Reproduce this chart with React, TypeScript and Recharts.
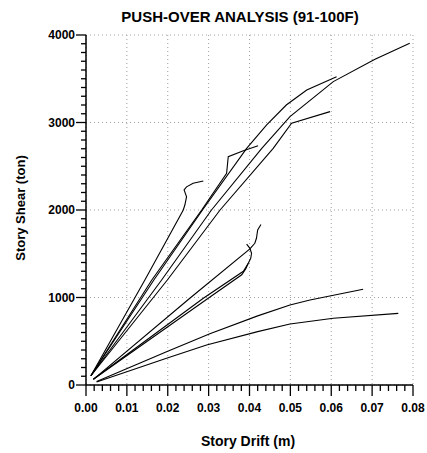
import React from "react";
import { LineChart, Line, XAxis, YAxis, CartesianGrid } from "recharts";

const titleText = "PUSH-OVER ANALYSIS (91-100F)";
const xLabelText = "Story Drift (m)";
const yLabelText = "Story Shear (ton)";

const xMajorTicks = [0, 0.01, 0.02, 0.03, 0.04, 0.05, 0.06, 0.07, 0.08];
const yMajorTicks = [0, 1000, 2000, 3000, 4000];
const xMinorStep = 0.002;
const yMinorStep = 100;

type P = { x: number; y: number };
const pts = (a: number[][]): P[] => a.map(([x, y]) => ({ x, y }));

// Upper group
const storyA1 = pts([[0.0012, 106], [0.0144, 1200], [0.0238, 2000], [0.0242, 2060], [0.0246, 2152], [0.024, 2229], [0.0246, 2265], [0.0262, 2305], [0.0287, 2332]]);
const storyA2 = pts([[0.0012, 106], [0.0161, 1200], [0.0283, 2000], [0.0344, 2420], [0.0348, 2610], [0.0385, 2678], [0.0421, 2735]]);
const storyA3 = pts([[0.0012, 106], [0.0166, 1200], [0.0285, 2000], [0.0393, 2705], [0.0442, 2972], [0.049, 3200], [0.054, 3372], [0.0613, 3524]]);
const storyA4 = pts([[0.0012, 106], [0.0185, 1200], [0.0307, 2000], [0.043, 2705], [0.0499, 3067], [0.0605, 3467], [0.0707, 3722], [0.0792, 3906]]);
const storyA5 = pts([[0.0012, 106], [0.0199, 1200], [0.0328, 2000], [0.0458, 2705], [0.0503, 2991], [0.0597, 3124]]);
// Middle group
const storyB1 = pts([[0.0018, 65], [0.0254, 991], [0.0401, 1555], [0.0413, 1620], [0.0417, 1677], [0.042, 1772], [0.0428, 1835]]);
const storyB2 = pts([[0.0018, 65], [0.0287, 991], [0.0385, 1300], [0.0397, 1391], [0.0403, 1448], [0.0405, 1506], [0.0401, 1562], [0.0393, 1610]]);
const storyB3 = pts([[0.0018, 65], [0.0299, 991], [0.0381, 1260], [0.0391, 1330], [0.0397, 1391]]);
// Lower group
const storyC1 = pts([[0.0026, 40], [0.0197, 381], [0.0303, 585], [0.042, 790], [0.0499, 914], [0.0548, 971], [0.0678, 1094]]);
const storyC2 = pts([[0.0026, 35], [0.0197, 305], [0.0295, 457], [0.042, 610], [0.0499, 697], [0.0605, 762], [0.0764, 819]]);

const series = [storyA1, storyA2, storyA3, storyA4, storyA5, storyB1, storyB2, storyB3, storyC1, storyC2];

const xTicks: number[] = [];
for (let i = 0; i <= 40; i++) xTicks.push(Math.round(i * xMinorStep * 10000) / 10000);
const yTicks: number[] = [];
for (let i = 0; i <= 40; i++) yTicks.push(i * yMinorStep);

const FONT = "'Liberation Sans', Arial, sans-serif";

const isXMajor = (v: number) => xMajorTicks.some((m) => Math.abs(m - v) < 1e-7);
const isYMajor = (v: number) => yMajorTicks.includes(v);

const XTick = (props: any) => {
  const { x, y, payload } = props;
  const v = payload.value as number;
  const major = isXMajor(v);
  return (
    <g>
      <line x1={x} x2={x} y1={y} y2={y + (major ? 11 : 6)} stroke="#000" strokeWidth={1.3} />
      {major && (
        <text x={x} y={y + 27} textAnchor="middle" fontFamily={FONT} fontWeight="bold" fontSize={12} fill="#000">
          {v.toFixed(2)}
        </text>
      )}
    </g>
  );
};

const YTick = (props: any) => {
  const { x, y, payload } = props;
  const v = payload.value as number;
  const major = isYMajor(v);
  return (
    <g>
      <line x1={x} x2={x - (major ? 10 : 5)} y1={y} y2={y} stroke="#000" strokeWidth={1.3} />
      {major && (
        <text x={x - 11} y={y + 4} textAnchor="end" fontFamily={FONT} fontWeight="bold" fontSize={12} fill="#000">
          {v}
        </text>
      )}
    </g>
  );
};

export default function App() {
  return (
    <div style={{ position: "absolute", left: 0, top: 0, width: 427, height: 453, background: "#fff" }}>
      <LineChart width={427} height={453} margin={{ top: 35, right: 14, left: 26, bottom: 28 }}>
        <CartesianGrid
          stroke="#a0a0a0"
          strokeDasharray="1 3"
          horizontalValues={yMajorTicks}
          verticalValues={xMajorTicks}
        />
        <XAxis
          type="number"
          dataKey="x"
          domain={[0, 0.08]}
          ticks={xTicks}
          interval={0}
          allowDataOverflow
          height={40}
          tickSize={0}
          tickMargin={0}
          tickLine={false}
          tick={<XTick />}
          axisLine={{ stroke: "#000", strokeWidth: 1.5 }}
        />
        <YAxis
          type="number"
          dataKey="y"
          domain={[0, 4000]}
          ticks={yTicks}
          interval={0}
          allowDataOverflow
          width={60}
          tickSize={0}
          tickMargin={0}
          tickLine={false}
          tick={<YTick />}
          axisLine={{ stroke: "#000", strokeWidth: 1.5 }}
        />
        {series.map((d, i) => (
          <Line
            key={i}
            data={d}
            dataKey="y"
            type="linear"
            stroke="#000"
            strokeWidth={1.1}
            dot={false}
            activeDot={false}
            isAnimationActive={false}
          />
        ))}
        <text x={240} y={22} textAnchor="middle" fontFamily={FONT} fontWeight="bold" fontSize={15} fill="#000">
          {titleText}
        </text>
        <text x={248} y={446} textAnchor="middle" fontFamily={FONT} fontWeight="bold" fontSize={14} fill="#000">
          {xLabelText}
        </text>
        <text
          x={25}
          y={208}
          textAnchor="middle"
          fontFamily={FONT}
          fontWeight="bold"
          fontSize={13}
          fill="#000"
          transform="rotate(-90 25 208)"
        >
          {yLabelText}
        </text>
      </LineChart>
    </div>
  );
}
